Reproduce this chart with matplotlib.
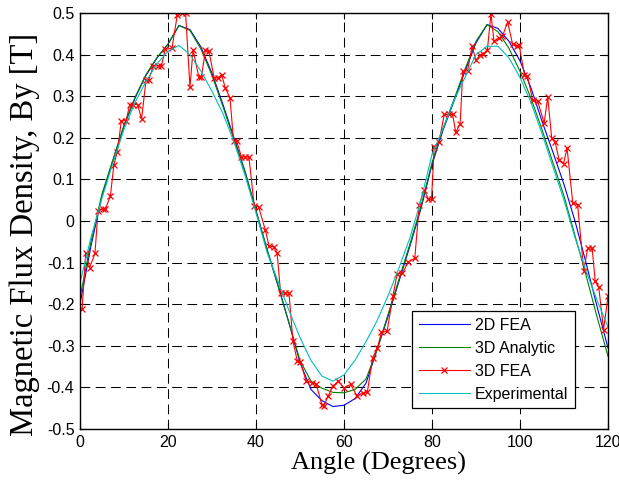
import matplotlib
matplotlib.use("Agg")
import matplotlib.pyplot as plt
from matplotlib.ticker import FuncFormatter

plt.rcParams['font.family'] = ['Liberation Sans', 'DejaVu Sans']
plt.rcParams['axes.unicode_minus'] = False
plt.rcParams['lines.scale_dashes'] = False

# smooth curves, read every 2.5 degrees
angle = [0, 2.5, 5, 7.5, 10, 12.5, 15, 17.5, 20, 22.5, 25, 27.5, 30, 32.5, 35, 37.5,
         40, 42.5, 45, 47.5, 50, 52.5, 55, 57.5, 60, 62.5, 65, 67.5, 70, 72.5, 75, 77.5,
         80, 82.5, 85, 87.5, 90, 92.5, 95, 97.5, 100, 102.5, 105, 107.5, 110, 112.5,
         115, 117.5, 120]

fea_2d = [-0.200, -0.060, 0.060, 0.145, 0.228, 0.295, 0.350, 0.392, 0.425, 0.470,
          0.460, 0.418, 0.355, 0.280, 0.200, 0.120, 0.025, -0.068, -0.155, -0.245,
          -0.340, -0.405, -0.432, -0.446, -0.443, -0.427, -0.390, -0.310, -0.230,
          -0.145, -0.060, 0.030, 0.135, 0.218, 0.288, 0.360, 0.428, 0.472, 0.463,
          0.432, 0.385, 0.320, 0.240, 0.165, 0.088, 0.000, -0.100, -0.205, -0.305]

analytic_3d = [-0.185, -0.050, 0.065, 0.148, 0.230, 0.297, 0.352, 0.393, 0.425, 0.470,
               0.458, 0.413, 0.350, 0.275, 0.196, 0.118, 0.025, -0.068, -0.155, -0.245,
               -0.335, -0.385, -0.402, -0.412, -0.413, -0.405, -0.380, -0.310, -0.225,
               -0.140, -0.055, 0.035, 0.140, 0.222, 0.292, 0.365, 0.432, 0.472, 0.455,
               0.415, 0.360, 0.295, 0.220, 0.140, 0.060, -0.035, -0.130, -0.230, -0.325]

experimental = [-0.148, -0.040, 0.055, 0.140, 0.220, 0.285, 0.335, 0.378, 0.408, 0.422,
                0.400, 0.360, 0.312, 0.258, 0.190, 0.110, 0.020, -0.075, -0.145, -0.215,
                -0.280, -0.335, -0.373, -0.385, -0.370, -0.335, -0.290, -0.240, -0.180,
                -0.113, -0.040, 0.050, 0.160, 0.222, 0.290, 0.345, 0.400, 0.420, 0.420,
                0.392, 0.345, 0.285, 0.210, 0.130, 0.050, -0.040, -0.120, -0.190, -0.255]

# 3D FEA samples
fea3d_angle = [0.5, 1.3, 2.2, 3.4, 4.1, 5.2, 5.8, 6.9, 7.7, 8.5, 9.4, 10.5, 11.3, 12.1,
               13.1, 14.0, 15.0, 15.6, 16.7, 17.8, 18.5, 19.4, 20.9, 22.1, 23.1, 24.0,
               25.0, 25.7, 27.0, 27.6, 28.5, 29.3, 30.5, 31.3, 32.2, 33.0, 34.1, 34.9,
               35.6, 36.7, 37.5, 38.4, 39.6, 40.6, 42.1, 43.0, 44.0, 44.8, 45.6, 46.5,
               47.5, 48.4, 49.4, 50.1, 51.4, 52.8, 53.7, 55.0, 55.4, 56.4, 57.5, 58.7,
               60.0, 61.5, 63.0, 64.3, 65.3, 66.5, 67.6, 68.5, 69.8, 71.1, 72.1, 73.3,
               74.6, 76.1, 77.1, 78.2, 79.2, 79.9, 80.5, 81.6, 82.8, 83.9, 84.7, 85.4,
               86.4, 87.0, 88.1, 89.1, 90.0, 91.0, 91.7, 92.6, 93.4, 94.1, 95.3, 96.0,
               97.2, 98.3, 99.3, 99.8, 101.0, 101.7, 102.9, 104.0, 105.5, 106.3, 107.2,
               108.0, 108.9, 109.9, 110.7, 112.0, 113.1, 114.5, 115.4, 116.4, 117.1,
               117.9, 119.0, 120.0]
fea3d_by = [-0.211, -0.076, -0.112, -0.078, 0.023, 0.030, 0.030, 0.059, 0.135, 0.167,
            0.241, 0.241, 0.280, 0.280, 0.280, 0.245, 0.338, 0.338, 0.373, 0.373, 0.373,
            0.413, 0.415, 0.494, 0.500, 0.500, 0.321, 0.412, 0.346, 0.346, 0.410, 0.408,
            0.344, 0.344, 0.352, 0.320, 0.296, 0.192, 0.192, 0.154, 0.154, 0.154, 0.037,
            0.034, -0.021, -0.061, -0.062, -0.077, -0.173, -0.173, -0.173, -0.289, -0.337,
            -0.339, -0.385, -0.389, -0.393, -0.442, -0.444, -0.421, -0.397, -0.385, -0.401,
            -0.393, -0.421, -0.413, -0.412, -0.329, -0.305, -0.268, -0.265, -0.181, -0.127,
            -0.125, -0.099, -0.089, 0.039, 0.075, 0.052, 0.052, 0.179, 0.191, 0.256, 0.256,
            0.256, 0.213, 0.234, 0.360, 0.361, 0.420, 0.386, 0.400, 0.402, 0.412, 0.498,
            0.432, 0.440, 0.444, 0.478, 0.426, 0.421, 0.424, 0.352, 0.348, 0.290, 0.288,
            0.236, 0.298, 0.200, 0.189, 0.147, 0.138, 0.175, 0.043, 0.039, -0.119, -0.065,
            -0.065, -0.145, -0.159, -0.261, -0.181]

fig = plt.figure(figsize=(6.19, 4.83), dpi=100)
ax = fig.add_axes([0.1292, 0.1118, 0.853, 0.8613])

ax.plot(angle, fea_2d, color='#0000ff', lw=0.8, label='2D FEA')
ax.plot(angle, analytic_3d, color='#008000', lw=0.8, label='3D Analytic')
ax.plot(fea3d_angle, fea3d_by, color='#ff0000', lw=0.8, marker='x', ms=4.5,
        mew=0.9, label='3D FEA')
ax.plot(angle, experimental, color='#00bfbf', lw=0.8, label='Experimental')

ax.set_xlim(0, 120)
ax.set_ylim(-0.5, 0.5)
ax.set_xticks(range(0, 121, 20))
ax.set_yticks([i / 10 for i in range(-5, 6)])
ax.yaxis.set_major_formatter(FuncFormatter(lambda v, p: '%g' % round(v, 1)))
ax.tick_params(direction='in', top=True, right=True, length=4, width=0.8,
               labelsize=11.5, pad=4)
ax.grid(True, color='black', linestyle=(0, (7, 4)), linewidth=0.75)
for s in ax.spines.values():
    s.set_linewidth(1.0)

ax.set_xlabel('Angle (Degrees)', family=['Liberation Serif'], fontsize=19)
ax.xaxis.set_label_coords(0.565, -0.055)
ax.set_ylabel('Magnetic Flux Density, By [T]', family=['Liberation Serif'],
              fontsize=23.5)
ax.yaxis.set_label_coords(-0.0757, 0.468)

leg = ax.legend(loc='lower right', bbox_to_anchor=(0.9375, 0.05), borderaxespad=0,
                fontsize=11.5, fancybox=False, framealpha=1, edgecolor='black',
                handlelength=3.2, handletextpad=0.35, labelspacing=0.5,
                borderpad=0.4)
leg.get_frame().set_linewidth(0.9)

fig.savefig('out.png', dpi=100)
